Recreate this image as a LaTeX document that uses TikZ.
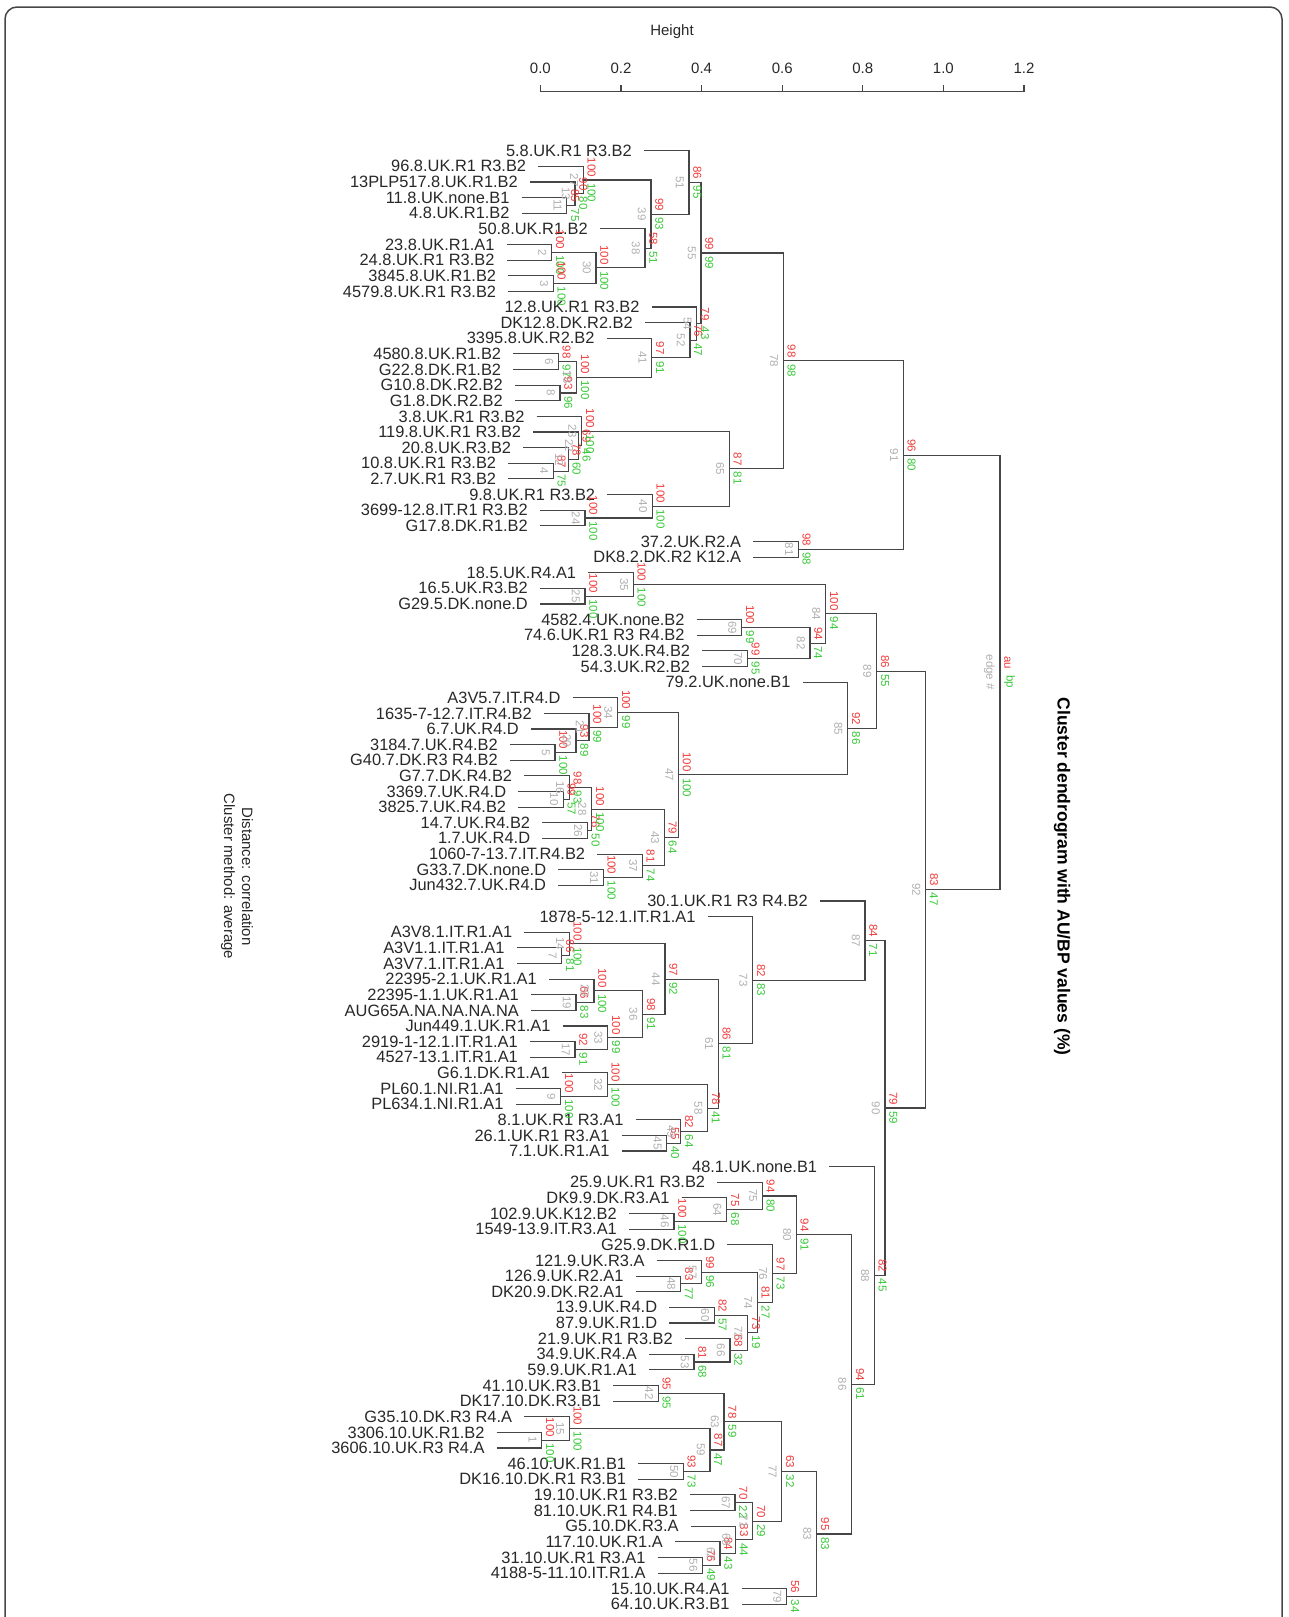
\documentclass[tikz,border=0pt]{standalone}
\usepackage{fontspec}
\setmainfont{Liberation Sans}
\usetikzlibrary{calc}
\definecolor{aured}{RGB}{240,58,58}
\definecolor{bpgreen}{RGB}{55,200,55}
\definecolor{edgrey}{RGB}{175,175,175}
\definecolor{brgrey}{RGB}{70,70,70}
\definecolor{lbl}{RGB}{40,40,40}
\pgfdeclarelayer{bg}
\pgfsetlayers{bg,main}
\newcommand{\nmfont}{\fontsize{11.5}{13}\selectfont}
% merge: name, child a, child b, height x, au, bp, edge
\newcommand{\mrg}[7]{%
  \path let \p1=(#2), \p2=(#3) in coordinate (#1) at (#4pt,{(\y1+\y2)/2});
  \begin{pgfonlayer}{bg}\draw[br] (#2) -| (#1) |- (#3);\end{pgfonlayer}
  \node[au] (#1a) at (#1) {#5};
  \node[bp] (#1b) at (#1) {#6};
  \node[ed] (#1e) at (#1) {#7};}

\begin{document}
\begin{tikzpicture}[x=1pt, y=-1pt,
  lf/.style={anchor=east, inner sep=0pt, text=lbl, font=\fontsize{16.4}{18}\selectfont},
  br/.style={draw=brgrey, line width=1.1pt},
  au/.style={rotate=-90, anchor=south east, inner xsep=3pt, inner ysep=4pt, text=aured, font=\nmfont},
  bp/.style={rotate=-90, anchor=south west, inner xsep=3pt, inner ysep=4pt, text=bpgreen, font=\nmfont},
  ed/.style={rotate=-90, anchor=north, inner xsep=0pt, inner ysep=5pt, text=edgrey, font=\nmfont},
  ax/.style={draw=brgrey, line width=1.2pt},
  tkl/.style={text=lbl, font=\fontsize{15}{17}\selectfont},
  sub/.style={rotate=-90, text=lbl, font=\fontsize{15}{17}\selectfont},
  ttl/.style={rotate=-90, text=black, font=\bfseries\fontsize{17.5}{20}\selectfont},
  frm/.style={draw=brgrey, line width=1.5pt, rounded corners=12pt}]
\useasboundingbox (0,0) rectangle (1288,1617);
\draw[frm] (5,1617) -- (5,7) -- (1282,7) -- (1282,1617);

% axis
\draw[ax] (540.4,91.5) -- (1024,91.5);
\foreach \k/\v in {0/0.0,1/0.2,2/0.4,3/0.6,4/0.8,5/1.0,6/1.2}{
  \draw[ax] ({540.4+80.6*\k},91.5) -- ++(0,-7);
  \node[tkl] (tk\k) at ({540.4+80.6*\k},68) {\v};}
\node[tkl] (hgt) at (672,32) {Height};

% leaves
\foreach \n/\hx/\lab in {
  1/644/5.8.UK.R1 R3.B2, 2/538.3/96.8.UK.R1 R3.B2, 3/530/13PLP517.8.UK.R1.B2,
  4/521.7/11.8.UK.none.B1, 5/521.7/4.8.UK.R1.B2, 6/600/50.8.UK.R1.B2,
  7/506.7/23.8.UK.R1.A1, 8/506.7/24.8.UK.R1 R3.B2, 9/508.3/3845.8.UK.R1.B2,
  10/508.3/4579.8.UK.R1 R3.B2, 11/651.7/12.8.UK.R1 R3.B2, 12/645/DK12.8.DK.R2.B2,
  13/606.7/3395.8.UK.R2.B2, 14/513.3/4580.8.UK.R1.B2, 15/513.3/G22.8.DK.R1.B2,
  16/515/G10.8.DK.R2.B2, 17/515/G1.8.DK.R2.B2, 18/536.7/3.8.UK.R1 R3.B2,
  19/533.3/119.8.UK.R1 R3.B2, 20/523.3/20.8.UK.R3.B2, 21/508.3/10.8.UK.R1 R3.B2,
  22/508.3/2.7.UK.R1 R3.B2, 23/607.3/9.8.UK.R1 R3.B2, 24/540/3699-12.8.IT.R1 R3.B2,
  25/540/G17.8.DK.R1.B2, 26/753.3/37.2.UK.R2.A, 27/753.3/DK8.2.DK.R2 K12.A,
  28/588.3/18.5.UK.R4.A1, 29/540/16.5.UK.R3.B2, 30/540/G29.5.DK.none.D,
  31/696.7/4582.4.UK.none.B2, 32/696.7/74.6.UK.R1 R3 R4.B2, 33/702.3/128.3.UK.R4.B2,
  34/702.3/54.3.UK.R2.B2, 35/802.7/79.2.UK.none.B1, 36/572.7/A3V5.7.IT.R4.D,
  37/544/1635-7-12.7.IT.R4.B2, 38/531/6.7.UK.R4.D, 39/510/3184.7.UK.R4.B2,
  40/510/G40.7.DK.R3 R4.B2, 41/524.3/G7.7.DK.R4.B2, 42/518.3/3369.7.UK.R4.D,
  43/518.3/3825.7.UK.R4.B2, 44/542.3/14.7.UK.R4.B2, 45/542.3/1.7.UK.R4.D,
  46/597.3/1060-7-13.7.IT.R4.B2, 47/558.3/G33.7.DK.none.D, 48/558.3/Jun432.7.UK.R4.D,
  49/820/30.1.UK.R1 R3 R4.B2, 50/707.7/1878-5-12.1.IT.R1.A1, 51/524.3/A3V8.1.IT.R1.A1,
  52/516.7/A3V1.1.IT.R1.A1, 53/516.7/A3V7.1.IT.R1.A1, 54/549/22395-2.1.UK.R1.A1,
  55/531/22395-1.1.UK.R1.A1, 56/531/AUG65A.NA.NA.NA.NA, 57/562.7/Jun449.1.UK.R1.A1,
  58/530/2919-1-12.1.IT.R1.A1, 59/530/4527-13.1.IT.R1.A1, 60/562.3/G6.1.DK.R1.A1,
  61/515.7/PL60.1.NI.R1.A1, 62/515.7/PL634.1.NI.R1.A1, 63/635.7/8.1.UK.R1 R3.A1,
  64/621.7/26.1.UK.R1 R3.A1, 65/621.7/7.1.UK.R1.A1, 66/829.3/48.1.UK.none.B1,
  67/717.3/25.9.UK.R1 R3.B2, 68/681.7/DK9.9.DK.R3.A1, 69/629/102.9.UK.K12.B2,
  70/629/1549-13.9.IT.R3.A1, 71/727.3/G25.9.DK.R1.D, 72/656.7/121.9.UK.R3.A,
  73/635.7/126.9.UK.R2.A1, 74/635.7/DK20.9.DK.R2.A1, 75/669.3/13.9.UK.R4.D,
  76/669.3/87.9.UK.R1.D, 77/685/21.9.UK.R1 R3.B2, 78/649/34.9.UK.R4.A,
  79/649/59.9.UK.R1.A1, 80/613.3/41.10.UK.R3.B1, 81/613.3/DK17.10.DK.R3.B1,
  82/524.3/G35.10.DK.R3 R4.A, 83/496.7/3306.10.UK.R1.B2, 84/496.7/3606.10.UK.R3 R4.A,
  85/638.3/46.10.UK.R1.B1, 86/638.3/DK16.10.DK.R1 R3.B1, 87/690/19.10.UK.R1 R3.B2,
  88/690/81.10.UK.R1 R4.B1, 89/690.7/G5.10.DK.R3.A, 90/675/117.10.UK.R1.A,
  91/657.7/31.10.UK.R1 R3.A1, 92/657.7/4188-5-11.10.IT.R1.A, 93/741.7/15.10.UK.R4.A1,
  94/741.7/64.10.UK.R3.B1}{
  \coordinate (l\n) at (\hx,{150.7+(\n-1)*15.63});
  \node[lf] (t\n) at ([xshift=-12pt]l\n) {\lab};}

% first block
\mrg{m45}{l4}{l5}{566.7}{85}{75}{11}
\mrg{m3}{l3}{m45}{575}{90}{80}{13}
\mrg{m2}{l2}{m3}{583.3}{100}{100}{27}
\mrg{m78}{l7}{l8}{551.7}{100}{100}{2}
\mrg{m910}{l9}{l10}{553.3}{100}{100}{3}
\mrg{m710}{m78}{m910}{596}{100}{100}{30}
\mrg{mB}{l6}{m710}{645}{58}{51}{38}
\mrg{mA}{m2}{mB}{651}{99}{93}{39}
\mrg{m1}{l1}{mA}{689}{86}{95}{51}
\mrg{m1415}{l14}{l15}{558.3}{98}{97}{6}
\mrg{m1617}{l16}{l17}{560}{93}{96}{8}
\mrg{mG}{m1415}{m1617}{576.7}{100}{100}{18}
\mrg{mF}{l13}{mG}{651.7}{97}{91}{41}
\mrg{mH}{l12}{mF}{690}{76}{47}{52}
\mrg{mE}{l11}{mH}{696.7}{79}{43}{54}
\mrg{mD}{m1}{mE}{701}{99}{99}{55}
\mrg{m2122}{l21}{l22}{553.3}{87}{75}{4}
\mrg{m20}{l20}{m2122}{568.3}{78}{60}{12}
\mrg{m19}{l19}{m20}{578.3}{69}{46}{22}
\mrg{m18}{l18}{m19}{581.7}{100}{100}{23}
\mrg{m2425}{l24}{l25}{585}{100}{100}{24}
\mrg{m23}{l23}{m2425}{652.3}{100}{100}{40}
\mrg{mK}{m18}{m23}{729.3}{87}{81}{65}
\mrg{mN}{mD}{mK}{783.3}{98}{98}{78}
\mrg{mP}{l26}{l27}{798.3}{98}{98}{81}
\mrg{mQ}{mN}{mP}{903.3}{96}{80}{91}

% second block
\mrg{m2930}{l29}{l30}{585}{100}{100}{25}
\mrg{mX1}{l28}{m2930}{633.3}{100}{100}{35}
\mrg{m3132}{l31}{l32}{741.7}{100}{99}{69}
\mrg{m3334}{l33}{l34}{747.3}{99}{95}{70}
\mrg{mX2}{m3132}{m3334}{810}{94}{74}{82}
\mrg{mV}{mX1}{mX2}{825.7}{100}{94}{84}
\mrg{m3940}{l39}{l40}{555}{100}{100}{5}
\mrg{m38}{l38}{m3940}{576}{93}{89}{20}
\mrg{m37}{l37}{m38}{589}{100}{99}{21}
\mrg{mZ1}{l36}{m37}{617.7}{100}{99}{34}
\mrg{m4243}{l42}{l43}{563.3}{99}{57}{10}
\mrg{m41}{l41}{m4243}{569.3}{98}{93}{16}
\mrg{m4445}{l44}{l45}{587.3}{76}{50}{26}
\mrg{m4145}{m41}{m4445}{591.7}{100}{100}{28}
\mrg{m4748}{l47}{l48}{603.3}{100}{100}{31}
\mrg{m46}{l46}{m4748}{642.3}{81}{74}{37}
\mrg{mZ2}{m4145}{m46}{664.3}{79}{64}{43}
\mrg{mY}{mZ1}{mZ2}{678.5}{100}{100}{47}
\mrg{mW}{l35}{mY}{847.7}{92}{86}{85}
\mrg{mT}{mV}{mW}{876.7}{86}{55}{89}

% third block
\mrg{m5253}{l52}{l53}{561.7}{66}{81}{7}
\mrg{m51}{l51}{m5253}{569.3}{100}{100}{14}
\mrg{m5556}{l55}{l56}{576}{66}{83}{19}
\mrg{m54}{l54}{m5556}{594}{100}{100}{29}
\mrg{m5859}{l58}{l59}{575}{92}{91}{17}
\mrg{m57}{l57}{m5859}{607.7}{100}{99}{33}
\mrg{mU1g}{m54}{m57}{642.7}{98}{91}{36}
\mrg{mU1d}{m51}{mU1g}{665}{97}{92}{44}
\mrg{m6162}{l61}{l62}{560.7}{100}{100}{9}
\mrg{m60}{l60}{m6162}{607.3}{100}{100}{32}
\mrg{m6465}{l64}{l65}{666.7}{55}{40}{45}
\mrg{m63}{l63}{m6465}{680.7}{82}{64}{49}
\mrg{mU1e}{m60}{m63}{707.7}{78}{41}{58}
\mrg{mU1c}{mU1d}{mU1e}{718.3}{86}{81}{61}
\mrg{mU1b}{l50}{mU1c}{752.7}{82}{83}{73}
\mrg{mU1}{l49}{mU1b}{865}{84}{71}{87}

% fourth block
\mrg{m6970}{l69}{l70}{674}{100}{100}{46}
\mrg{m68}{l68}{m6970}{726.7}{75}{68}{64}
\mrg{m67}{l67}{m68}{762.3}{94}{80}{75}
\mrg{m7374}{l73}{l74}{680.7}{83}{77}{48}
\mrg{m72}{l72}{m7374}{701.7}{99}{96}{57}
\mrg{m7576}{l75}{l76}{714.3}{82}{57}{60}
\mrg{m7879}{l78}{l79}{694}{81}{68}{53}
\mrg{m77}{l77}{m7879}{730}{68}{32}{66}
\mrg{m7579}{m7576}{m77}{747.7}{73}{19}{72}
\mrg{m7279}{m72}{m7579}{757.3}{81}{27}{74}
\mrg{mU2f}{l71}{m7279}{772.3}{97}{73}{76}
\mrg{mU2c}{m67}{mU2f}{796.3}{94}{91}{80}
\mrg{m8081}{l80}{l81}{658.3}{95}{95}{42}
\mrg{m8384}{l83}{l84}{541.7}{100}{100}{1}
\mrg{m82}{l82}{m8384}{569.3}{100}{100}{15}
\mrg{m8586}{l85}{l86}{683.3}{93}{73}{50}
\mrg{mU2k}{m82}{m8586}{710}{87}{47}{59}
\mrg{mU2i}{m8081}{mU2k}{724}{78}{59}{63}
\mrg{m8788}{l87}{l88}{735}{70}{22}{67}
\mrg{m9192}{l91}{l92}{702.7}{76}{49}{56}
\mrg{m90}{l90}{m9192}{720}{84}{43}{62}
\mrg{m89}{l89}{m90}{735.7}{83}{44}{68}
\mrg{mU2n}{m8788}{m89}{752.7}{70}{29}{71}
\mrg{mU2g}{mU2i}{mU2n}{781.7}{63}{32}{77}
\mrg{m9394}{l93}{l94}{786.7}{56}{34}{79}
\mrg{mU2d}{mU2g}{m9394}{816.7}{95}{83}{83}
\mrg{mU2b}{mU2c}{mU2d}{851.7}{94}{61}{86}
\mrg{mU2}{l66}{mU2b}{874.3}{82}{45}{88}

% top
\mrg{mU}{mU1}{mU2}{885}{79}{59}{90}
\mrg{mS}{mT}{mU}{925.7}{83}{47}{92}
\mrg{mR}{mQ}{mS}{1000}{au}{bp}{edge \#}

\node[ttl] (ttl) at (1062,876.5) {Cluster dendrogram with AU/BP values (\%)};
\node[sub] (dist) at (247.5,876.5) {Distance: correlation};
\node[sub] (meth) at (228,876.5) {Cluster method: average};
\end{tikzpicture}
\end{document}
